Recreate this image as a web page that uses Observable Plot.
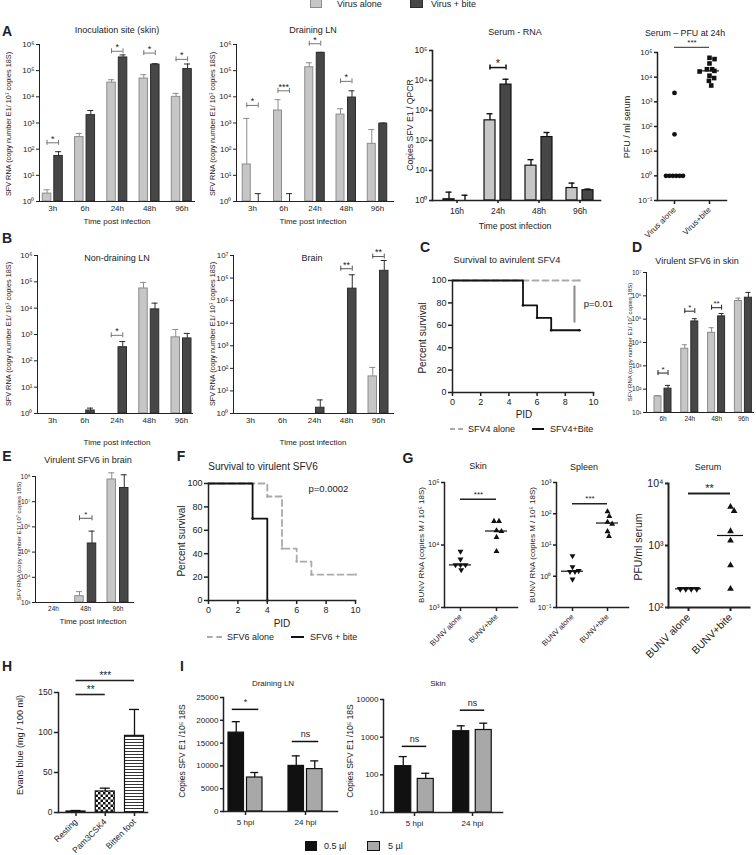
<!DOCTYPE html>
<html><head><meta charset="utf-8">
<script src="https://cdn.jsdelivr.net/npm/d3@7"></script>
<script src="https://cdn.jsdelivr.net/npm/@observablehq/plot@0.6"></script>
<style>
html,body{margin:0;padding:0;background:#fff;}
#root{position:relative;width:756px;height:855px;overflow:hidden;background:#fff;}
</style></head>
<body><div id="root"></div>
<script>
// ================= DATA =================
const legendLabels = ["Virus alone", "Virus + bite"];

// A – inoculation site (skin)
const timesA = ["3h", "6h", "24h", "48h", "96h"];
const skinAlone = [2, 290, 35000, 50000, 10000];
const skinAloneErr = [2.8, 400, 45000, 70000, 13500];
const skinBite = [55, 2000, 320000, 170000, 115000];
const skinBiteErr = [80, 3000, 400000, 185000, 180000];
const skinSig = [["3h", 175, "*"], ["24h", 550000, "*"], ["48h", 470000, "*"], ["96h", 270000, "*"]];

// A – draining LN
const dlnAlone = [26, 3000, 135000, 2100, 160];
const dlnAloneErr = [1500, 7800, 200000, 3500, 560];
const dlnBite = [1, 1, 480000, 9400, 940];
const dlnBiteErr = [2, 2, 500000, 17000, 1000];
const dlnSig = [["3h", 4700, "*"], ["6h", 17000, "***"], ["24h", 1070000, "*"], ["48h", 39000, "*"]];

// A – serum RNA
const timesSerum = ["16h", "24h", "48h", "96h"];
const serumAlone = [1.1, 470, 14.5, 2.6];
const serumAloneErr = [1.9, 780, 23, 3.8];
const serumBite = [1, 7300, 130, 2.2];
const serumBiteErr = [1.5, 11000, 185, 2.4];
const serumSig = [["24h", 27000, "*"]];

// A – serum PFU at 24h
const pfuGroups = ["Virus alone", "Virus+bite"];
const pfuAlone = [2300, 48, 1, 1, 1, 1, 1, 1];
const pfuBite = [61000, 54000, 36000, 21000, 18000, 21000, 17000, 11500, 9200, 7100, 4600];
const pfuSig = [160000, "***"];

// B – non-draining LN
const ndlnAlone = [1, 1, 1, 56000, 780];
const ndlnAloneErr = [null, null, null, 95000, 1550];
const ndlnBite = [1, 1.3, 330, 9000, 710];
const ndlnBiteErr = [null, 1.6, 540, 15500, 1100];
const ndlnSig = [["24h", 930, "*"]];

// B – brain
const brainAlone = [1, 1, 1, 1, 44];
const brainAloneErr = [null, null, null, null, 110];
const brainBite = [1, 1, 1.8, 340000, 2100000];
const brainBiteErr = [null, null, 4, 1400000, 6000000];
const brainSig = [["48h", 2600000, "**"], ["96h", 9000000, "**"]];

// C – survival SFV4
const sfv4AloneDays = [0, 9];
const sfv4AloneSurv = [100, 100];
const sfv4BiteDays = [0, 5, 6, 7, 9];
const sfv4BiteSurv = [100, 77.8, 66.7, 55.6, 55.6];

// D – virulent SFV6 in skin
const timesD = ["6h", "24h", "48h", "96h"];
const sfv6SkinAlone = [49, 5400, 26000, 600000];
const sfv6SkinAloneErr = [53, 8000, 43000, 800000];
const sfv6SkinBite = [105, 80000, 132000, 830000];
const sfv6SkinBiteErr = [145, 105000, 175000, 1400000];
const sfv6SkinSig = [["6h", 490, "*"], ["24h", 220000, "*"], ["48h", 310000, "**"]];

// E – virulent SFV6 in brain
const timesE = ["24h", "48h", "96h"];
const sfv6BrainAlone = [1000, 1780, 7.6e7];
const sfv6BrainAloneErr = [null, 2700, 1.4e8];
const sfv6BrainBite = [1000, 2.2e5, 3.5e7];
const sfv6BrainBiteErr = [null, 6.8e5, 1.17e8];
const sfv6BrainSig = [["48h", 2.2e6, "*"]];

// F – survival SFV6
const sfv6AloneDays = [0, 4, 5, 6, 7, 10];
const sfv6AloneSurv = [100, 88.9, 44.4, 33.3, 22.2, 22.2];
const sfv6BiteDays = [0, 3, 4];
const sfv6BiteSurv = [100, 70, 0];

// G – BUNV
const bunvGroups = ["BUNV alone", "BUNV+bite"];
const bunvSkinAlone = [7900, 5900, 4800, 4800, 4800, 4000];
const bunvSkinBite = [24000, 24000, 17000, 16500, 13300, 7900];
const bunvSpleenAlone = [4.5, 2.0, 1.4, 1.4, 1.5, 0.8];
const bunvSpleenBite = [117, 83, 54, 47, 27, 19];
const bunvSerumAlone = [200, 200, 200, 200];
const bunvSerumBite = [4200, 3600, 1700, 1200, 480, 200];
const bunvSkinSig = [54000, "***"];
const bunvSpleenSig = [210, "***"];
const bunvSerumSig = [6900, "**"];

// H – Evans blue
const evansCats = ["Resting", "Pam3CSK4", "Bitten foot"];
const evansVals = [1.25, 26.3, 95.8];
const evansErr = [2.5, 30.4, 128.8];
const evansSig = [["Resting", "Pam3CSK4", 147.5, "**"], ["Resting", "Bitten foot", 165, "***"]];

// I – volume
const hpiCats = ["5 hpi", "24 hpi"];
const volLabels = ["0.5 µl", "5 µl"];
const dlnSmallVol = [17300, 10000];
const dlnSmallVolErr = [19700, 12200];
const dlnLargeVol = [7450, 9300];
const dlnLargeVolErr = [8550, 11100];
const dlnVolSig = [["5 hpi", 22400, "*"], ["24 hpi", 15350, "ns"]];
const skinSmallVol = [170, 1440];
const skinSmallVolErr = [305, 2000];
const skinLargeVol = [78, 1550];
const skinLargeVolErr = [110, 2350];
const skinVolSig = [["5 hpi", 570, "ns"], ["24 hpi", 5200, "ns"]];

// ================= HELPERS =================
const FONT = '"Liberation Sans", Arial, Helvetica, sans-serif';
const root = document.getElementById("root");
const SUP = {"-": "⁻", "0": "⁰", "1": "¹", "2": "²", "3": "³", "4": "⁴", "5": "⁵", "6": "⁶", "7": "⁷", "8": "⁸", "9": "⁹"};
const pow10 = d => "10" + String(Math.round(Math.log10(d))).split("").map(ch => SUP[ch]).join("");
const decades = (a, b) => d3.range(Math.round(Math.log10(a)), Math.round(Math.log10(b)) + 1).map(e => Math.pow(10, e));
const INK = "#222";
const LIGHT = {fill: "#c6c6c6", stroke: "#8c8c8c", errStroke: "#8c8c8c"};
const DARK = {fill: "#474747", stroke: "#2c2c2c", errStroke: "#2c2c2c"};

function txt(html, x, y, o = {}) {
  const d = document.createElement("div");
  d.innerHTML = html;
  const tx = o.anchor === "start" ? "0" : o.anchor === "end" ? "-100%" : "-50%";
  Object.assign(d.style, {
    position: "absolute", left: x + "px", top: y + "px", whiteSpace: "nowrap",
    fontFamily: FONT, fontSize: (o.size || 9) + "px", fontWeight: o.bold ? "bold" : "normal",
    color: o.color || INK, lineHeight: "1",
    transform: `translate(${tx}, -50%)` + (o.rot ? ` rotate(${o.rot}deg)` : "")
  });
  root.appendChild(d);
}
function box(x, y, w, h, style) {
  const d = document.createElement("div");
  Object.assign(d.style, {position: "absolute", left: x + "px", top: y + "px", width: w + "px", height: h + "px", boxSizing: "border-box"}, style);
  root.appendChild(d);
}

function mount(c, marks, scales) {
  const ml = 45, mr = 15, mt = 25, mb = 50;
  const W = c.x1 - c.x0, H = c.yB - c.yT;
  const svg = Plot.plot({
    width: W + ml + mr, height: H + mt + mb,
    marginLeft: ml, marginRight: mr, marginTop: mt, marginBottom: mb,
    style: {background: "transparent", overflow: "visible", fontFamily: FONT, fontSize: (c.fs ?? 8) + "px", color: INK},
    ...scales, marks
  });
  svg.style.position = "absolute";
  svg.style.left = (c.x0 - ml) + "px";
  svg.style.top = (c.yT - mt) + "px";
  svg.style.maxWidth = "none";
  root.appendChild(svg);
}

function axes(c, xTicks, xFmt) {
  const aw = c.axisW ?? 1;
  return [
    Plot.axisY({ticks: c.yTicks, tickFormat: c.yFmt, tickSize: c.yTickSize ?? 3, tickPadding: 2, strokeWidth: aw, label: null}),
    Plot.axisX({ticks: xTicks, tickFormat: xFmt, tickSize: c.xTickSize ?? 0, tickPadding: c.xPad ?? 4, tickRotate: c.xRot ?? 0, strokeWidth: aw, label: null}),
    Plot.frame({anchor: "left", stroke: INK, strokeWidth: aw}),
    Plot.frame({anchor: "bottom", stroke: INK, strokeWidth: aw})
  ];
}

function barChart(c) {
  const W = c.x1 - c.x0, H = c.yB - c.yT;
  const n = c.labels.length;
  const xd = [-c.fc / c.step, (W - c.fc) / c.step];
  const ymin = c.yDomain[0];
  const log = c.yType === "log";
  const pitch = (c.barW + c.gap) / c.step, bw = c.barW / c.step, cw = (c.capW ?? 6) / c.step;
  const ns = c.series.length;
  const marks = [];
  if (c.pre) marks.push(...c.pre);
  c.series.forEach((s, k) => {
    const off = (k - (ns - 1) / 2) * pitch;
    const rows = c.labels.map((g, i) => ({x: i + off, v: s.vals[i], e: s.errs ? s.errs[i] : null, f: Array.isArray(s.fill) ? s.fill[i] : s.fill}));
    const fills = [...new Set(rows.map(d => d.f))];
    for (const f of fills) {
      marks.push(Plot.rectY(rows.filter(d => d.v > ymin && d.f === f), {
        x1: d => d.x - bw / 2, x2: d => d.x + bw / 2, y1: () => ymin, y2: "v",
        fill: f, stroke: s.stroke, strokeWidth: s.sw ?? 1
      }));
    }
    const er = rows.filter(d => d.e != null);
    marks.push(Plot.ruleX(er, {x: "x", y1: "v", y2: "e", stroke: s.errStroke, strokeWidth: s.ew ?? 1}));
    marks.push(Plot.ruleY(er, {x1: d => d.x - cw / 2, x2: d => d.x + cw / 2, y: "e", stroke: s.errStroke, strokeWidth: s.ew ?? 1}));
  });
  const idx = g => c.labels.indexOf(g);
  const half = (ns - 1) / 2 * pitch + (c.sigExtra ?? 0) / c.step;
  const capPx = 2.5;
  const kf = log ? Math.pow(10, capPx * Math.log10(c.yDomain[1] / c.yDomain[0]) / H) : capPx * (c.yDomain[1] - c.yDomain[0]) / H;
  const sig = (c.sig || []).map(([g, y, t]) => ({i: idx(g), y, t}));
  const sStroke = c.sigStroke ?? "#666", sW = c.sigW ?? 1;
  marks.push(Plot.ruleY(sig, {x1: d => d.i - half, x2: d => d.i + half, y: "y", stroke: sStroke, strokeWidth: sW}));
  if (c.sigCaps !== false) {
    const ends = sig.flatMap(d => [{x: d.i - half, y: d.y}, {x: d.i + half, y: d.y}]);
    marks.push(Plot.ruleX(ends, {x: "x", y1: d => log ? d.y / kf : d.y - kf, y2: d => log ? d.y * kf : d.y + kf, stroke: sStroke, strokeWidth: sW}));
  }
  marks.push(Plot.text(sig, {x: "i", y: "y", text: "t", dy: c.sigDy ?? -4, fontSize: c.sigFs ?? 9, fill: INK}));
  const pairs = (c.pairSig || []).map(([a, b, y, t]) => ({a: idx(a), b: idx(b), y, t}));
  marks.push(Plot.ruleY(pairs, {x1: "a", x2: "b", y: "y", stroke: INK, strokeWidth: 1.6}));
  marks.push(Plot.text(pairs, {x: d => (d.a + d.b) / 2, y: "y", text: "t", dy: -5, fontSize: 10, fill: INK}));
  marks.push(...axes(c, d3.range(n), i => c.labels[i]));
  mount(c, marks, {x: {domain: xd}, y: {type: c.yType ?? "linear", domain: c.yDomain}});
}

function swarm(ys, d) {
  const placed = [];
  const out = ys.map(y => {
    const cands = [0];
    for (const p of placed) {
      const dy = Math.abs(p.y - y);
      if (dy < d) { const dx = Math.sqrt(d * d - dy * dy); cands.push(p.x + dx, p.x - dx); }
    }
    cands.sort((a, b) => Math.abs(a) - Math.abs(b));
    let x = cands.find(cx => placed.every(p => (p.x - cx) ** 2 + (p.y - y) ** 2 >= d * d - 0.01));
    if (x === undefined) x = d3.max(placed, p => p.x) + d;
    placed.push({x, y});
    return x;
  });
  const byY = d3.group(d3.range(ys.length), i => ys[i].toFixed(2));
  for (const ids of byY.values()) if (ids.length > 1) { const m = d3.mean(ids, i => out[i]); ids.forEach(i => out[i] -= m); }
  return out;
}

function scatterChart(c) {
  const W = c.x1 - c.x0, H = c.yB - c.yT;
  const xd = [-c.fc / c.step, (W - c.fc) / c.step];
  const [lo, hi] = c.yDomain.map(Math.log10);
  const py = v => c.yB - (Math.log10(v) - lo) / (hi - lo) * H;
  const marks = [];
  c.groups.forEach((gr, i) => {
    const offs = swarm(gr.vals.map(py), gr.d);
    const pts = gr.vals.map((v, j) => ({x: i + offs[j] / c.step, v}));
    marks.push(Plot.dot(pts, {x: "x", y: "v", symbol: gr.symbol, r: gr.r, fill: "#111", stroke: "none", rotate: gr.rotate ?? 0}));
    const med = d3.median(gr.vals);
    marks.push(Plot.ruleY([med], {x1: () => i - c.medHalf / c.step, x2: () => i + c.medHalf / c.step, y: d => d, stroke: "#111", strokeWidth: 1.2}));
  });
  const [sy, st] = c.sig;
  marks.push(Plot.ruleY([sy], {x1: () => 0, x2: () => 1, y: d => d, stroke: c.sigStroke ?? INK, strokeWidth: c.sigW ?? 1.5}));
  marks.push(Plot.text([sy], {x: () => 0.5, y: d => d, text: () => st, dy: c.sigDy ?? -5, fontSize: c.sigFs ?? 9, fill: INK}));
  marks.push(...axes(c, [0, 1], i => c.labels[i]));
  mount(c, marks, {x: {domain: xd}, y: {type: "log", domain: c.yDomain}});
}

function survChart(c) {
  const marks = [];
  c.curves.forEach(cv => {
    const pts = cv.days.map((t, j) => ({t, s: cv.surv[j]}));
    marks.push(Plot.line(pts, {x: "t", y: "s", curve: "step-after", stroke: cv.stroke, strokeWidth: cv.w, strokeDasharray: cv.dash}));
    marks.push(Plot.dot(pts.slice(1), {x: "t", y: "s", r: 1.3, fill: cv.stroke, stroke: "none"}));
  });
  if (c.pLine) marks.push(Plot.ruleX([c.pLine[0]], {x: d => d, y1: () => c.pLine[1], y2: () => c.pLine[2], stroke: "#8a8a8a", strokeWidth: 2}));
  marks.push(Plot.text([c.pText[0]], {x: () => c.pText[1], y: () => c.pText[2], text: d => d, textAnchor: "start", fontSize: 9.5, fill: INK}));
  const aw = 1.5;
  marks.push(
    Plot.axisY({ticks: d3.range(0, 101, 20), tickSize: 4, tickPadding: 2, strokeWidth: aw, label: null}),
    Plot.axisX({ticks: d3.range(0, 11, 2), tickSize: 4, tickPadding: 2, strokeWidth: aw, label: null}),
    Plot.frame({anchor: "left", stroke: INK, strokeWidth: aw}),
    Plot.frame({anchor: "bottom", stroke: INK, strokeWidth: aw})
  );
  mount(c, marks, {x: {domain: [0, 10]}, y: {domain: [0, 100]}});
}

const patternDefs = () => {
  const g = d3.create("svg:g");
  const defs = g.append("defs");
  const ck = defs.append("pattern").attr("id", "pat-checker").attr("patternUnits", "userSpaceOnUse").attr("width", 5).attr("height", 5);
  ck.append("rect").attr("width", 5).attr("height", 5).attr("fill", "#fff");
  ck.append("rect").attr("width", 2.5).attr("height", 2.5).attr("fill", "#111");
  ck.append("rect").attr("x", 2.5).attr("y", 2.5).attr("width", 2.5).attr("height", 2.5).attr("fill", "#111");
  const st = defs.append("pattern").attr("id", "pat-stripes").attr("patternUnits", "userSpaceOnUse").attr("width", 6).attr("height", 3);
  st.append("rect").attr("width", 6).attr("height", 3).attr("fill", "#fff");
  st.append("rect").attr("width", 6).attr("height", 1).attr("fill", "#333");
  return g.node();
};

// ================= PANELS =================
const yTitleSFV = "SFV RNA (copy number E1/ 10⁷ copies 18S)";
const logSeries = (a, ae, b, be) => [{...LIGHT, vals: a, errs: ae}, {...DARK, vals: b, errs: be}];

// top legend
box(310, -2, 12, 10, {background: LIGHT.fill, border: "1px solid " + LIGHT.stroke});
txt(legendLabels[0], 337, 4, {anchor: "start", size: 9});
box(410, -2, 13, 10, {background: DARK.fill, border: "1px solid " + DARK.stroke});
txt(legendLabels[1], 431, 4, {anchor: "start", size: 9});

// A
txt("A", 7, 31, {bold: true, size: 14});
barChart({x0: 39, x1: 194, yT: 44, yB: 201, fc: 13.3, step: 32.25, barW: 8.5, gap: 3, labels: timesA,
  yType: "log", yDomain: [1, 1e6], yTicks: decades(1, 1e6), yFmt: pow10,
  series: logSeries(skinAlone, skinAloneErr, skinBite, skinBiteErr), sig: skinSig, sigStroke: "#777"});
txt("Inoculation site (skin)", 117, 30);
txt(yTitleSFV, 9, 124, {rot: -90, size: 7.3});
txt("Time post infection", 117, 222, {size: 8});

barChart({x0: 236, x1: 393, yT: 44, yB: 201, fc: 16, step: 31.25, barW: 8, gap: 3.5, labels: timesA,
  yType: "log", yDomain: [1, 1e6], yTicks: decades(1, 1e6), yFmt: pow10,
  series: logSeries(dlnAlone, dlnAloneErr, dlnBite, dlnBiteErr), sig: dlnSig, sigStroke: "#777"});
txt("Draining LN", 313, 30);
txt(yTitleSFV, 213, 124, {rot: -90, size: 7.3});
txt("Time post infection", 313, 222, {size: 8});

barChart({x0: 432, x1: 600, yT: 50, yB: 200, fc: 24.5, step: 41, barW: 11, gap: 5, labels: timesSerum,
  yType: "log", yDomain: [1, 1e5], yTicks: decades(1, 1e5), yFmt: pow10, axisW: 1.6, xTickSize: 3, fs: 8.5,
  series: [{...LIGHT, stroke: "#111", errStroke: "#111", sw: 1.2, ew: 1.4, vals: serumAlone, errs: serumAloneErr},
           {...DARK, stroke: "#111", errStroke: "#111", sw: 1.2, ew: 1.4, vals: serumBite, errs: serumBiteErr}],
  sig: serumSig, sigStroke: "#111", sigW: 1.5, sigFs: 11});
txt("Serum - RNA", 515, 32, {size: 9});
txt("Copies SFV E1 / QPCR", 410, 125, {rot: -90, size: 8.7});
txt("Time post infection", 515, 226, {size: 8.7});

scatterChart({x0: 657, x1: 726, yT: 52, yB: 200, fc: 17, step: 35, labels: pfuGroups,
  yDomain: [0.1, 1e5], yTicks: decades(0.1, 1e5), yFmt: pow10, axisW: 1.5, xTickSize: 4, xRot: -45, fs: 8,
  groups: [{vals: pfuAlone, symbol: "circle", r: 2.4, d: 3.4}, {vals: pfuBite, symbol: "square", r: 2.6, d: 5.2}],
  medHalf: 10, sig: pfuSig, sigStroke: "#555", sigW: 1.2, sigFs: 8});
txt("Serum – PFU at 24h", 685, 33, {size: 8.8});
txt("PFU / ml serum", 627, 127, {rot: -90, size: 9});

// B
txt("B", 7, 238, {bold: true, size: 14});
barChart({x0: 37, x1: 192, yT: 255, yB: 413, fc: 15, step: 32.25, barW: 8.5, gap: 3, labels: timesA,
  yType: "log", yDomain: [1, 1e6], yTicks: decades(1, 1e6), yFmt: pow10,
  series: logSeries(ndlnAlone, ndlnAloneErr, ndlnBite, ndlnBiteErr), sig: ndlnSig, sigStroke: "#777"});
txt("Non-draining LN", 117, 258);
txt(yTitleSFV, 9, 334, {rot: -90, size: 7.3});
txt("Time post infection", 117, 443, {size: 8});

barChart({x0: 233, x1: 393, yT: 255, yB: 413, fc: 17, step: 32, barW: 8.5, gap: 3, labels: timesA,
  yType: "log", yDomain: [1, 1e7], yTicks: decades(1, 1e7), yFmt: pow10,
  series: logSeries(brainAlone, brainAloneErr, brainBite, brainBiteErr), sig: brainSig, sigStroke: "#555"});
txt("Brain", 312, 258);
txt(yTitleSFV, 213, 334, {rot: -90, size: 7.3});
txt("Time post infection", 313, 443, {size: 8});

// C
txt("C", 425, 247, {bold: true, size: 14});
survChart({x0: 452, x1: 593, yT: 280, yB: 392, fs: 9,
  curves: [{days: sfv4AloneDays, surv: sfv4AloneSurv, stroke: "#aaa", w: 1.8, dash: "6,4"},
           {days: sfv4BiteDays, surv: sfv4BiteSurv, stroke: "#111", w: 1.8}],
  pLine: [8.65, 95, 62], pText: ["p=0.01", 9.3, 79]});
txt("Survival to avirulent SFV4", 507, 261, {size: 9.3});
txt("Percent survival", 423, 338, {rot: -90, size: 10});
txt("PID", 524, 415, {size: 10});
box(450, 428, 13, 2, {borderTop: "2px dashed #aaa"});
txt("SFV4 alone", 468, 429, {anchor: "start", size: 9});
box(532, 428, 12, 2, {background: "#111"});
txt("SFV4+Bite", 550, 429, {anchor: "start", size: 9});

// D
txt("D", 637, 247, {bold: true, size: 14});
barChart({x0: 646, x1: 753, yT: 272, yB: 412, fc: 16.5, step: 26.8, barW: 7, gap: 3, labels: timesD,
  yType: "log", yDomain: [10, 1e7], yTicks: decades(10, 1e7), yFmt: pow10, fs: 6.5, capW: 5,
  series: logSeries(sfv6SkinAlone, sfv6SkinAloneErr, sfv6SkinBite, sfv6SkinBiteErr), sig: sfv6SkinSig, sigStroke: "#222", sigFs: 8});
txt("Virulent SFV6 in skin", 697, 261, {size: 9});
txt(yTitleSFV, 630, 342, {rot: -90, size: 6});

// E
txt("E", 7, 456, {bold: true, size: 14});
barChart({x0: 35, x1: 133, yT: 476, yB: 602, fc: 18, step: 32.25, barW: 8.5, gap: 4, labels: timesE,
  yType: "log", yDomain: [1e3, 1e8], yTicks: decades(1e3, 1e8), yFmt: pow10, fs: 6.5,
  series: logSeries(sfv6BrainAlone, sfv6BrainAloneErr, sfv6BrainBite, sfv6BrainBiteErr), sig: sfv6BrainSig, sigStroke: "#555", sigFs: 8});
txt("Virulent SFV6 in brain", 88, 460, {size: 9});
txt(yTitleSFV, 19, 541, {rot: -90, size: 6});
txt("Time post infection", 93, 622, {size: 8});

// F
txt("F", 181, 456, {bold: true, size: 14});
survChart({x0: 208, x1: 355, yT: 483, yB: 600, fs: 9,
  curves: [{days: sfv6AloneDays, surv: sfv6AloneSurv, stroke: "#aaa", w: 1.8, dash: "6,4"},
           {days: sfv6BiteDays, surv: sfv6BiteSurv, stroke: "#111", w: 1.8}],
  pText: ["p=0.0002", 6.8, 95]});
txt("Survival to virulent SFV6", 263, 467, {size: 10});
txt("Percent survival", 182, 541, {rot: -90, size: 10});
txt("PID", 282, 624, {size: 10});
box(207, 636, 15, 2, {borderTop: "2px dashed #aaa"});
txt("SFV6 alone", 227, 637, {anchor: "start", size: 9});
box(291, 636, 13, 2, {background: "#111"});
txt("SFV6 + bite", 310, 637, {anchor: "start", size: 9});

// G
txt("G", 408, 458, {bold: true, size: 14});
const triDown = {symbol: "triangle", rotate: 180, r: 2.2, d: 5};
const triUp = {symbol: "triangle", r: 2.2, d: 5};
scatterChart({x0: 444, x1: 517, yT: 482, yB: 607, fc: 16, step: 36, labels: bunvGroups,
  yDomain: [1e3, 1e5], yTicks: decades(1e3, 1e5), yFmt: pow10, axisW: 1.5, xTickSize: 4, xRot: -45, fs: 7.5,
  groups: [{...triDown, vals: bunvSkinAlone}, {...triUp, vals: bunvSkinBite}], medHalf: 11, sig: bunvSkinSig, sigW: 1.5, sigFs: 8});
txt("Skin", 478, 466, {size: 9});
txt("BUNV RNA (copies M / 10⁵ 18S)", 422, 545, {rot: -90, size: 8});

scatterChart({x0: 556, x1: 628, yT: 482, yB: 607, fc: 16, step: 35, labels: bunvGroups,
  yDomain: [0.1, 1e3], yTicks: decades(0.1, 1e3), yFmt: pow10, axisW: 1.5, xTickSize: 4, xRot: -45, fs: 7.5,
  groups: [{...triDown, vals: bunvSpleenAlone}, {...triUp, vals: bunvSpleenBite}], medHalf: 11, sig: bunvSpleenSig, sigW: 1.5, sigFs: 8});
txt("Spleen", 584, 467, {size: 9});
txt("BUNV RNA (copies M / 10⁵ 18S)", 533, 545, {rot: -90, size: 8});

scatterChart({x0: 668, x1: 749, yT: 483, yB: 607, fc: 20, step: 42, labels: bunvGroups,
  yDomain: [100, 1e4], yTicks: decades(100, 1e4), yFmt: pow10, axisW: 2, xTickSize: 4, xRot: -45, fs: 10.5,
  groups: [{...triDown, vals: bunvSerumAlone, r: 2.5, d: 5.5}, {...triUp, vals: bunvSerumBite, r: 2.5, d: 5.5}], medHalf: 13, sig: bunvSerumSig, sigW: 2, sigFs: 11});
txt("Serum", 708, 467, {size: 9});
txt("PFU/ml serum", 638, 547, {rot: -90, size: 10.5});

// H
txt("H", 7, 666, {bold: true, size: 14});
barChart({x0: 58, x1: 147, yT: 692, yB: 812, fc: 17.5, step: 29.25, barW: 19, gap: 0, labels: evansCats,
  yType: "linear", yDomain: [0, 150], yTicks: [0, 50, 100, 150], yFmt: d => String(d), axisW: 1.5, xTickSize: 4, xRot: -45, fs: 8.5,
  yTickSize: 4, capW: 10, pre: [patternDefs],
  series: [{fill: ["#111", "url(#pat-checker)", "url(#pat-stripes)"], stroke: "#111", errStroke: "#111", sw: 1.2, ew: 1.3, vals: evansVals, errs: evansErr}],
  pairSig: evansSig});
txt("Evans blue (mg / 100 ml)", 20, 745, {rot: -90, size: 9});

// I
txt("I", 182, 666, {bold: true, size: 14});
const volSeries = (a, ae, b, be) => [
  {fill: "#111", stroke: "#111", errStroke: "#111", sw: 1.2, ew: 1.3, vals: a, errs: ae},
  {fill: "#a8a8a8", stroke: "#111", errStroke: "#111", sw: 1.2, ew: 1.3, vals: b, errs: be}];
barChart({x0: 223, x1: 337, yT: 697, yB: 811, fc: 22, step: 60, barW: 15.5, gap: 3, labels: hpiCats,
  yType: "linear", yDomain: [0, 25000], yTicks: d3.range(0, 25001, 5000), yFmt: d => String(d), axisW: 1.5, xTickSize: 4, fs: 8, capW: 8,
  series: volSeries(dlnSmallVol, dlnSmallVolErr, dlnLargeVol, dlnLargeVolErr), sig: dlnVolSig, sigCaps: false, sigExtra: 4, sigStroke: "#111", sigW: 1.5, sigDy: -7});
txt("Draining LN", 273, 684, {size: 8});
txt("Copies SFV E1 /10⁵ 18S", 182, 751, {rot: -90, size: 8.5});

barChart({x0: 383, x1: 502, yT: 699, yB: 812, fc: 31, step: 58, barW: 16, gap: 6.5, labels: hpiCats,
  yType: "log", yDomain: [10, 1e4], yTicks: decades(10, 1e4), yFmt: d => String(d), axisW: 1.5, xTickSize: 4, fs: 8, capW: 8,
  series: volSeries(skinSmallVol, skinSmallVolErr, skinLargeVol, skinLargeVolErr), sig: skinVolSig, sigCaps: false, sigExtra: 1, sigStroke: "#111", sigW: 1.5, sigDy: -7});
txt("Skin", 438, 684, {size: 8});
txt("Copies SFV E1 /10⁵ 18S", 350, 751, {rot: -90, size: 8.5});

box(305, 841, 12, 10, {background: "#111", border: "1px solid #111"});
txt(volLabels[0], 324, 846, {anchor: "start", size: 9});
box(367, 841, 13, 10, {background: "#a8a8a8", border: "1px solid #111"});
txt(volLabels[1], 388, 846, {anchor: "start", size: 9});
</script>
</body></html>
